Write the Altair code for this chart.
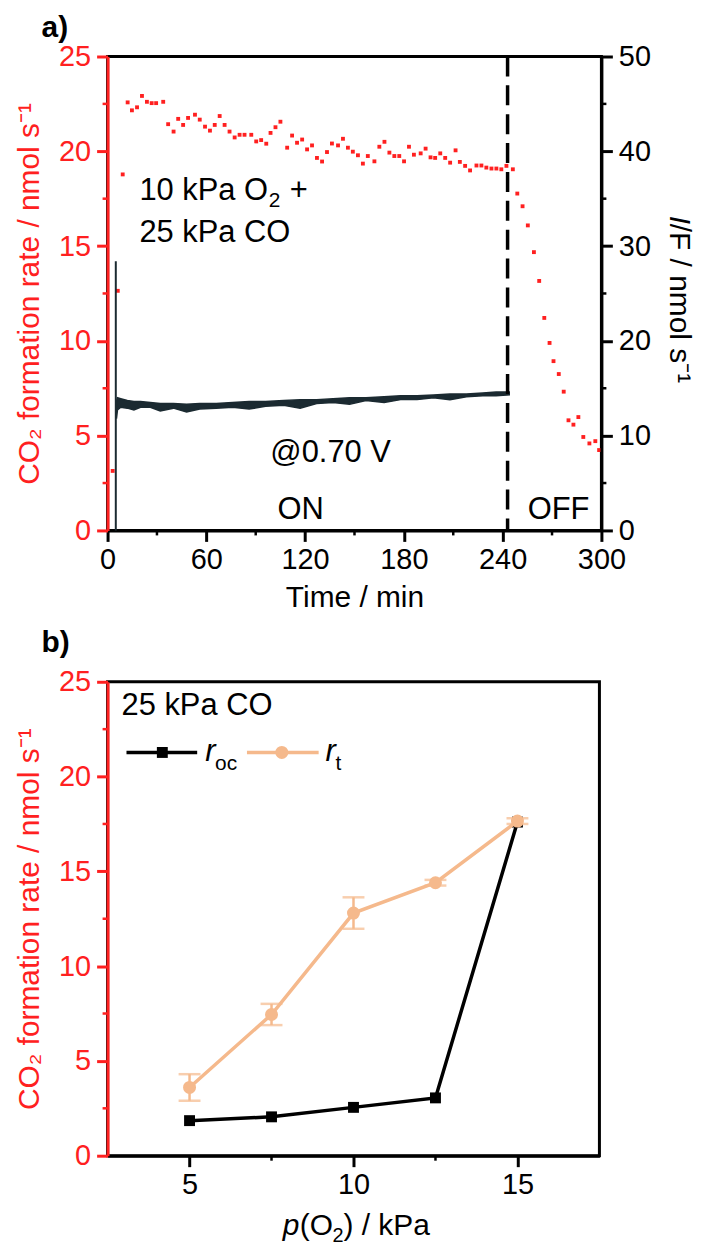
import altair as alt
import pandas as pd

FONT = "Liberation Sans"
RED = "#ff2020"
DARK = "#1b2a31"
ORANGE = "#f5b98c"
FS = 29
FT = 30
FA = 31

# ---------------- panel a data ----------------
t_rate = [3.1, 6.2, 9.2, 12.2, 14.8, 17.9, 20.9, 23.9, 26.8, 29.5, 33.8, 36.8, 40.1, 42.9,
          45.9, 48.9, 53.1, 56.0, 59.2, 62.2, 65.1, 68.1, 71.1, 74.1, 77.2, 80.2, 83.2,
          87.3, 90.3, 93.3, 96.4, 99.0, 102.0, 105.0, 109.1, 112.1, 115.1, 118.2, 121.2,
          124.2, 127.2, 130.3, 133.3, 136.3, 140.0, 143.0, 146.0, 149.0, 152.1, 155.1,
          158.1, 162.1, 165.1, 168.2, 171.2, 174.2, 177.2, 180.1, 183.1, 186.1, 190.2,
          193.2, 196.2, 199.0, 202.1, 205.1, 208.1, 211.4, 214.0, 217.2, 220.2, 224.1,
          227.1, 230.1, 233.2, 236.2, 239.2, 242.3, 246.2, 248.9, 252.1, 255.3, 259.0,
          262.2, 265.3, 268.5, 270.9, 274.1, 277.1, 280.0, 283.0, 286.0, 289.0, 292.7,
          296.3, 298.6]
rate = [3.14, 12.64, 18.78, 22.58, 22.16, 22.32, 22.92, 22.61, 22.54, 22.54, 22.61, 21.43,
        21.04, 21.71, 21.39, 21.76, 21.93, 21.67, 21.30, 21.09, 21.39, 21.86, 21.39, 21.04,
        20.73, 20.87, 20.87, 20.87, 20.52, 20.59, 20.40, 20.97, 21.27, 21.56, 20.19, 20.83,
        20.45, 20.62, 20.10, 20.31, 19.65, 19.46, 19.96, 20.41, 20.31, 20.66, 20.19, 19.98,
        19.79, 19.35, 19.75, 19.47, 20.24, 20.50, 19.93, 19.75, 19.75, 19.47, 20.24, 19.82,
        19.89, 20.14, 19.68, 19.65, 19.89, 19.65, 19.40, 20.05, 19.44, 19.23, 18.99, 19.25,
        19.25, 19.14, 19.09, 19.09, 19.05, 19.23, 19.05, 17.77, 17.10, 16.09, 14.68, 13.16,
        11.21, 9.89, 8.93, 8.25, 7.32, 5.81, 5.58, 5.98, 4.93, 4.59, 4.71, 4.24]

t_if = [5.4, 6, 8, 12, 16, 20, 26, 32, 40, 48, 56, 66, 76, 86, 96, 107, 117, 127, 137,
        147, 157, 168, 178, 188, 198, 208, 218, 228, 236, 244]
if_lo = [11.8, 12.7, 13.0, 12.9, 12.7, 13.0, 13.0, 12.6, 12.9, 12.5, 12.8, 12.9, 13.0,
         12.8, 13.1, 13.2, 12.9, 13.4, 13.5, 13.3, 13.7, 13.5, 13.8, 13.8, 14.0, 13.8,
         14.1, 14.2, 14.2, 14.3]
if_hi = [13.6, 14.0, 13.9, 13.7, 13.6, 13.6, 13.5, 13.4, 13.4, 13.3, 13.4, 13.4, 13.5,
         13.6, 13.6, 13.7, 13.8, 13.8, 13.9, 14.0, 14.0, 14.1, 14.2, 14.2, 14.3, 14.4,
         14.4, 14.5, 14.6, 14.6]
spike_t = [5.0]
spike_bottom = [0.0]
spike_top = [28.4]
switch_off_t = [243]

x_minor_a = [30, 90, 150, 210, 270]
y_minor_rate = [2.5, 7.5, 12.5, 17.5, 22.5]
y_minor_if = [5, 15, 25, 35, 45]

# ---------------- panel b data ----------------
p_o2 = [5, 7.5, 10, 12.5, 15]
r_oc = [1.85, 2.05, 2.55, 3.05, 17.6]
r_t = [3.6, 7.45, 12.8, 14.4, 17.65]
r_t_err = [0.7, 0.56, 0.83, 0.15, 0.15]
x_minor_b = [7.5, 12.5]

W_A, H_A = 496, 476
W_B, H_B = 494, 476

one = pd.DataFrame({"a": [0]})


def txt(s, x, y, size=FA, align="left", baseline="middle", style="normal",
        angle=0, color="black", weight="normal"):
    return alt.Chart(one).mark_text(
        text=s, font=FONT, fontSize=size, align=align, baseline=baseline,
        fontStyle=style, angle=angle, color=color, fontWeight=weight
    ).encode(x=alt.value(x), y=alt.value(y))


# ---------------- panel a ----------------
xa = alt.Scale(domain=[0, 300], nice=False, zero=False)
ya = alt.Scale(domain=[0, 25], nice=False)
yif = alt.Scale(domain=[0, 50], nice=False)

ax_xa = alt.Axis(values=[0, 60, 120, 180, 240, 300], title="Time / min",
                 labelColor="black", titleColor="black", domainColor="black",
                 tickColor="black", labelPadding=4, titlePadding=8)
ax_ya = alt.Axis(values=[0, 5, 10, 15, 20, 25], orient="left",
                 title="CO₂ formation rate / nmol s⁻¹",
                 labelColor=RED, titleColor=RED, domainColor=RED, tickColor=RED,
                 labelPadding=6, titlePadding=14, zindex=1)
ax_yif = alt.Axis(values=[0, 10, 20, 30, 40, 50], orient="right", title="",
                  labelColor="black", domainColor="black", tickColor="black",
                  labelPadding=6, zindex=1)

df_rate = pd.DataFrame({"t": t_rate, "v": rate})
df_if = pd.DataFrame({"t": t_if, "lo": if_lo, "hi": if_hi})
df_spike = pd.DataFrame({"t": spike_t, "lo": spike_bottom, "hi": spike_top})
df_off = pd.DataFrame({"t": switch_off_t})
df_min_xa = pd.DataFrame({"t": x_minor_a})
df_min_ya = pd.DataFrame({"v": y_minor_rate})
df_min_yif = pd.DataFrame({"lo": y_minor_if})

pts = alt.Chart(df_rate).mark_square(size=15, color=RED, opacity=1).encode(
    x=alt.X("t:Q", scale=xa, axis=ax_xa),
    y=alt.Y("v:Q", scale=ya, axis=ax_ya),
)
min_ya = alt.Chart(df_min_ya).mark_rule(color=RED, strokeWidth=2.5).encode(
    y=alt.Y("v:Q", scale=ya, axis=ax_ya),
    x=alt.value(-5), x2=alt.value(0),
)
left_group = alt.layer(pts, min_ya)

band = alt.Chart(df_if).mark_area(color=DARK, opacity=1, stroke=DARK, strokeWidth=1.5).encode(
    x=alt.X("t:Q", scale=xa, axis=ax_xa),
    y=alt.Y("lo:Q", scale=yif, axis=ax_yif),
    y2="hi:Q",
)
spike = alt.Chart(df_spike).mark_rule(color=DARK, strokeWidth=2).encode(
    x=alt.X("t:Q", scale=xa, axis=ax_xa),
    y=alt.Y("lo:Q", scale=yif, axis=ax_yif),
    y2="hi:Q",
)
off_line = alt.Chart(df_off).mark_rule(color="black", strokeWidth=3.5,
                                       strokeDash=[20, 9]).encode(
    x=alt.X("t:Q", scale=xa, axis=ax_xa),
)
min_yif = alt.Chart(df_min_yif).mark_rule(color="black", strokeWidth=2.5).encode(
    y=alt.Y("lo:Q", scale=yif, axis=ax_yif),
    x=alt.value(W_A), x2=alt.value(W_A + 5),
)
min_xa = alt.Chart(df_min_xa).mark_rule(color="black", strokeWidth=2.5).encode(
    x=alt.X("t:Q", scale=xa, axis=ax_xa),
    y=alt.value(H_A), y2=alt.value(H_A + 5),
)
right_group = alt.layer(band, spike, off_line, min_yif, min_xa)

ann_a = [
    txt("10 kPa O", 32, 144, baseline="alphabetic"),
    txt("2", 162, 151, size=21, baseline="alphabetic"),
    txt("+", 183, 144, baseline="alphabetic"),
    txt("25 kPa CO", 32, 186, baseline="alphabetic"),
    txt("@0.70 V", 224, 398, align="center"),
    txt("ON", 194, 456, align="center"),
    txt("OFF", 453, 456, align="center"),
    txt("I", W_A + 78, 160, size=FT, style="italic", angle=90),
    txt("/F / nmol s⁻¹", W_A + 78, 168, size=FT, angle=90),
]

panel_a = alt.layer(left_group, right_group, *ann_a).resolve_scale(
    y="independent"
).properties(
    width=W_A, height=H_A,
    title=alt.TitleParams("a)", anchor="start", fontSize=30, fontWeight="bold",
                          font=FONT, offset=0, dx=27),
)

# ---------------- panel b ----------------
xb = alt.Scale(domain=[2.5, 17.5], nice=False, zero=False)
yb = alt.Scale(domain=[0, 25], nice=False)
ax_xb = alt.Axis(values=[5, 10, 15], title="", labelColor="black",
                 domainColor="black", tickColor="black", labelPadding=4)
ax_yb = alt.Axis(values=[0, 5, 10, 15, 20, 25], orient="left",
                 title="CO₂ formation rate / nmol s⁻¹",
                 labelColor=RED, titleColor=RED, domainColor=RED, tickColor=RED,
                 labelPadding=6, titlePadding=14, zindex=1)

df_b = pd.DataFrame({
    "p": p_o2, "oc": r_oc, "rt": r_t,
    "lo": [a - e for a, e in zip(r_t, r_t_err)],
    "hi": [a + e for a, e in zip(r_t, r_t_err)],
})
df_min_xb = pd.DataFrame({"p": x_minor_b})
df_min_yb = pd.DataFrame({"oc": y_minor_rate})

X = alt.X("p:Q", scale=xb, axis=ax_xb)
oc_line = alt.Chart(df_b).mark_line(color="black", strokeWidth=3.5).encode(
    x=X, y=alt.Y("oc:Q", scale=yb, axis=ax_yb))
oc_pts = alt.Chart(df_b).mark_square(color="black", size=120, opacity=1).encode(
    x=X, y=alt.Y("oc:Q", scale=yb, axis=ax_yb))
err = alt.Chart(df_b).mark_rule(color=ORANGE, strokeWidth=2.5).encode(
    x=X, y=alt.Y("lo:Q", scale=yb, axis=ax_yb), y2="hi:Q")
cap_lo = alt.Chart(df_b).mark_tick(color=ORANGE, orient="horizontal", size=22,
                                   thickness=2.5).encode(
    x=X, y=alt.Y("lo:Q", scale=yb, axis=ax_yb))
cap_hi = alt.Chart(df_b).mark_tick(color=ORANGE, orient="horizontal", size=22,
                                   thickness=2.5).encode(
    x=X, y=alt.Y("hi:Q", scale=yb, axis=ax_yb))
rt_line = alt.Chart(df_b).mark_line(color=ORANGE, strokeWidth=3.5).encode(
    x=X, y=alt.Y("rt:Q", scale=yb, axis=ax_yb))
rt_pts = alt.Chart(df_b).mark_circle(color=ORANGE, size=170, opacity=1).encode(
    x=X, y=alt.Y("rt:Q", scale=yb, axis=ax_yb))
min_xb = alt.Chart(df_min_xb).mark_rule(color="black", strokeWidth=2.5).encode(
    x=X, y=alt.value(H_B), y2=alt.value(H_B + 5))
min_yb = alt.Chart(df_min_yb).mark_rule(color=RED, strokeWidth=2.5).encode(
    y=alt.Y("oc:Q", scale=yb, axis=ax_yb), x=alt.value(-5), x2=alt.value(0))

leg_y = 71
xt0 = 176
legend = [
    alt.Chart(one).mark_rule(color="black", strokeWidth=3.5).encode(
        x=alt.value(19), x2=alt.value(90), y=alt.value(leg_y)),
    alt.Chart(one).mark_square(color="black", size=120, opacity=1).encode(
        x=alt.value(55), y=alt.value(leg_y)),
    alt.Chart(one).mark_rule(color=ORANGE, strokeWidth=3.5).encode(
        x=alt.value(140), x2=alt.value(212), y=alt.value(leg_y)),
    alt.Chart(one).mark_circle(color=ORANGE, size=170, opacity=1).encode(
        x=alt.value(175), y=alt.value(leg_y)),
    txt("r", 98, 80, style="italic", baseline="alphabetic"),
    txt("oc", 108, 89, size=21, baseline="alphabetic"),
    txt("r", 219, 80, style="italic", baseline="alphabetic"),
    txt("t", 229, 89, size=21, baseline="alphabetic"),
    txt("25 kPa CO", 14, 24),
    txt("p", xt0, H_B + 80, size=FT, style="italic", baseline="alphabetic"),
    txt("(O", xt0 + 17, H_B + 80, size=FT, baseline="alphabetic"),
    txt("2", xt0 + 50, H_B + 87, size=20, baseline="alphabetic"),
    txt(") / kPa", xt0 + 61, H_B + 80, size=FT, baseline="alphabetic"),
]

panel_b = alt.layer(oc_line, oc_pts, err, cap_lo, cap_hi, rt_line, rt_pts,
                    min_xb, min_yb, *legend).properties(
    width=W_B, height=H_B,
    title=alt.TitleParams("b)", anchor="start", fontSize=30, fontWeight="bold",
                          font=FONT, offset=10, dx=27),
)

chart = alt.vconcat(panel_a, panel_b, spacing=12).properties(
    padding={"left": 5, "top": 0, "right": 0, "bottom": 0}
).configure_view(
    stroke="black", strokeWidth=3
).configure_axis(
    labelFont=FONT, titleFont=FONT, labelFontSize=FS, titleFontSize=FT,
    titleFontWeight="normal", grid=False, tickSize=11, tickWidth=3,
    domainWidth=3, labelFlush=False,
)

chart.save("out.html", embed_options={"renderer": "svg", "actions": False})
